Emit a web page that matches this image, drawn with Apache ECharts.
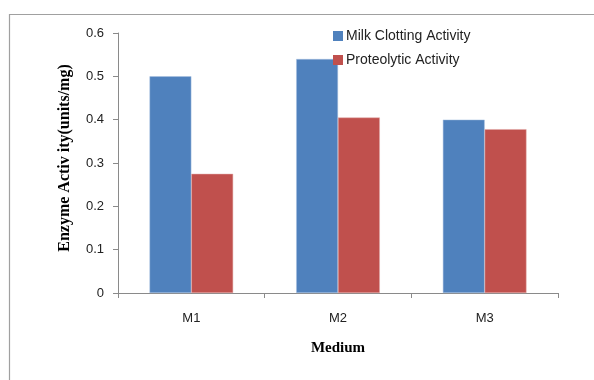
<!DOCTYPE html>
<html>
<head>
<meta charset="utf-8">
<script src="https://cdn.jsdelivr.net/npm/echarts@6/dist/echarts.min.js"></script>
<style>html,body{margin:0;padding:0;background:#fff}#c{width:594px;height:380px}</style>
</head>
<body>
<div id="c"></div>
<script>
var categories = ['M1', 'M2', 'M3'];
var milkClotting = [0.50, 0.54, 0.40];
var proteolytic = [0.275, 0.405, 0.378];
var seriesNames = ['Milk Clotting Activity', 'Proteolytic Activity'];
var yTicks = [0, 0.1, 0.2, 0.3, 0.4, 0.5, 0.6];

var chart = echarts.init(document.getElementById('c'), null, {renderer: 'canvas'});
chart.setOption({
  animation: false,
  backgroundColor: '#fff',
  graphic: [{
    type: 'rect', left: 7, top: 12, shape: {width: 620, height: 420},
    style: {fill: 'none', stroke: '#a0a0a0', lineWidth: 1.2}, z: -1
  }],
  grid: {left: 118, right: 36, top: 33, bottom: 87},
  legend: {
    orient: 'vertical', left: 328, top: 24, itemWidth: 10, itemHeight: 10, itemGap: 10,
    icon: 'rect',
    itemStyle: {borderWidth: 0},
    textStyle: {fontFamily: 'Liberation Sans', fontSize: 14, color: '#222', padding: [0, 0, 0, -2]},
    data: seriesNames
  },
  xAxis: {
    type: 'category', data: categories,
    name: 'Medium', nameLocation: 'middle', nameGap: 48,
    nameTextStyle: {fontFamily: 'Liberation Serif', fontWeight: 'bold', fontSize: 15, color: '#000'},
    axisLine: {lineStyle: {color: '#8a8a8a', width: 1}},
    axisTick: {show: true, length: 5, lineStyle: {color: '#8a8a8a'}},
    axisLabel: {margin: 19, fontFamily: 'Liberation Sans', fontSize: 13, color: '#222'}
  },
  yAxis: {
    type: 'value', min: 0, max: 0.6, interval: 0.1,
    name: 'Enzyme Activ ity(units/mg)', nameLocation: 'middle', nameGap: 45,
    nameTextStyle: {fontFamily: 'Liberation Serif', fontWeight: 'bold', fontSize: 16, color: '#000', padding: [0, 0, 0, 10]},
    axisLine: {show: true, lineStyle: {color: '#8a8a8a', width: 1}},
    axisTick: {show: true, length: 5, lineStyle: {color: '#8a8a8a'}},
    splitLine: {show: false},
    axisLabel: {margin: 14, fontFamily: 'Liberation Sans', fontSize: 13, color: '#222',
      formatter: function (v) { var t = yTicks.filter(function (x) { return Math.abs(x - v) < 1e-9; }); return t.length ? String(+v.toFixed(1)) : ''; }}
  },
  series: [
    {name: seriesNames[0], type: 'bar', data: milkClotting, barGap: '0%', barCategoryGap: '43%',
     itemStyle: {color: '#4F81BD', borderColor: '#a9c0e0', borderWidth: 0.5}},
    {name: seriesNames[1], type: 'bar', data: proteolytic, barGap: '0%', barCategoryGap: '43%',
     itemStyle: {color: '#C0504D', borderColor: '#e0a8a6', borderWidth: 0.5}}
  ]
});
</script>
</body>
</html>
